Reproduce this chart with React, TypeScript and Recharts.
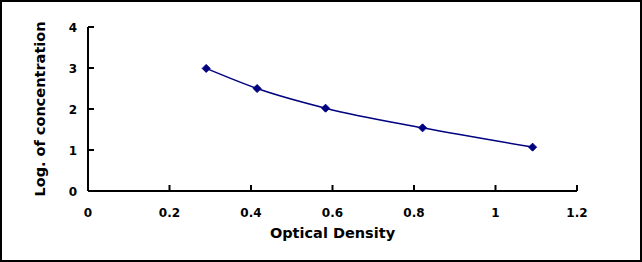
import { LineChart, Line, XAxis, YAxis } from "recharts";

// Standard curve points
const opticalDensity = [0.29, 0.415, 0.583, 0.821, 1.091];
const logConcentration = [2.99, 2.5, 2.02, 1.54, 1.07];

const xTicks = [0, 0.2, 0.4, 0.6, 0.8, 1, 1.2];
const yTicks = [0, 1, 2, 3, 4];

const data = opticalDensity.map((od, i) => ({ od, conc: logConcentration[i] }));

const NAVY = "#000080";
const FONT = "'DejaVu Sans', sans-serif";

// ticks point into the plot area, labels sit outside
const XTick = ({ x, y, payload }: any) => (
  <g>
    <line x1={x} y1={y} x2={x} y2={y - 6} stroke="#000" strokeWidth={2} />
    <text
      x={x}
      y={y + 26}
      textAnchor="middle"
      fontSize={12}
      fontWeight="bold"
      fontFamily={FONT}
      fill="#000"
    >
      {payload.value}
    </text>
  </g>
);

const YTick = ({ x, y, payload }: any) => (
  <g>
    <line x1={x} y1={y} x2={x + 6} y2={y} stroke="#000" strokeWidth={2} />
    <text
      x={x - 11}
      y={y + 4.5}
      textAnchor="end"
      fontSize={12}
      fontWeight="bold"
      fontFamily={FONT}
      fill="#000"
    >
      {payload.value}
    </text>
  </g>
);

const Diamond = ({ cx, cy }: any) => {
  if (cx == null || cy == null) return null;
  const r = 4;
  return (
    <polygon
      points={`${cx},${cy - r} ${cx + r},${cy} ${cx},${cy + r} ${cx - r},${cy}`}
      fill={NAVY}
      stroke={NAVY}
      strokeWidth={1}
    />
  );
};

export default function App() {
  return (
    <div
      style={{
        position: "absolute",
        left: 0,
        top: 0,
        width: 642,
        height: 262,
        background: "#fff",
      }}
    >
      <LineChart
        width={642}
        height={262}
        data={data}
        margin={{ top: 27, right: 65, bottom: 21, left: 0 }}
      >
        <XAxis
          dataKey="od"
          type="number"
          domain={[0, 1.2]}
          ticks={xTicks}
          interval={0}
          height={50}
          tickSize={0}
          tickMargin={0}
          tickLine={false}
          axisLine={{ stroke: "#000", strokeWidth: 2 }}
          tick={<XTick />}
          label={{
            content: ({ viewBox }: any) => (
              <text
                x={viewBox.x + viewBox.width / 2}
                y={viewBox.y + 47}
                textAnchor="middle"
                fontSize={14.5}
                fontWeight="bold"
                fontFamily={FONT}
                fill="#000"
              >
                Optical Density
              </text>
            ),
          }}
        />
        <YAxis
          dataKey="conc"
          type="number"
          domain={[0, 4]}
          ticks={yTicks}
          interval={0}
          width={88}
          tickSize={0}
          tickMargin={0}
          tickLine={false}
          axisLine={{ stroke: "#000", strokeWidth: 2 }}
          tick={<YTick />}
          label={{
            content: ({ viewBox }: any) => (
              <text
                transform={`translate(${viewBox.x + 45}, ${viewBox.y + viewBox.height / 2}) rotate(-90)`}
                textAnchor="middle"
                fontSize={14.5}
                fontWeight="bold"
                fontFamily={FONT}
                fill="#000"
              >
                Log. of concentration
              </text>
            ),
          }}
        />
        <Line
          type="monotone"
          dataKey="conc"
          stroke={NAVY}
          strokeWidth={1.5}
          dot={<Diamond />}
          activeDot={false}
          isAnimationActive={false}
        />
      </LineChart>
      <div
        style={{
          position: "absolute",
          inset: 0,
          border: "2px solid #000",
          boxSizing: "border-box",
          pointerEvents: "none",
        }}
      />
    </div>
  );
}
